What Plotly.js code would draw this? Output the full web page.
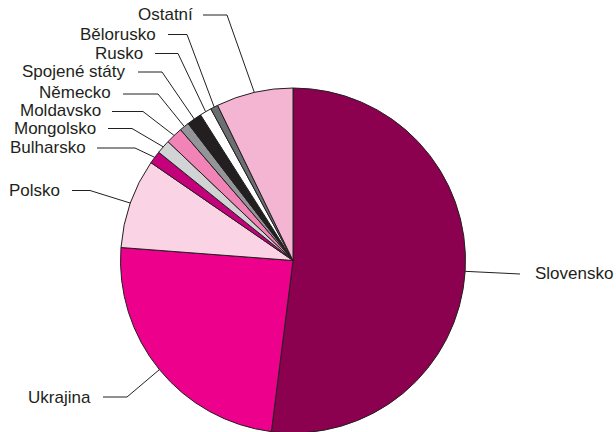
<!DOCTYPE html>
<html>
<head>
<meta charset="utf-8">
<script src="https://cdn.plot.ly/plotly-3.0.1.min.js"></script>
<style>
html,body{margin:0;padding:0;overflow:hidden;background:#fff;}
#chart{width:616px;height:440px;}
</style>
</head>
<body>
<div id="chart"></div>
<script>
// ---- data ----
var categories = ["Slovensko","Ukrajina","Polsko","Bulharsko","Mongolsko","Moldavsko","Německo","Spojené státy","Rusko","Bělorusko","Ostatní"];
var shares = [52.0, 24.2, 8.4, 1.2, 1.3, 1.6, 0.9, 1.4, 1.1, 0.7, 7.2];
var sliceColors = ["#8C0050","#EC008C","#FAD3E5","#C4007A","#D1D3D4","#F283B6","#939598","#231F20","#FFFFFF","#6D6E71","#F4B5D2"];

// ---- layout constants (pixels) ----
var W = 616, H = 440;
var cx = 293, cy = 260.5, R = 172.5;
// label text position, anchor, line start x, elbow x, line y
var labelPos = [
  {tx:533, ty:273, anchor:"left",  sx:520, ex:520, ly:274},
  {tx:93,  ty:397, anchor:"right", sx:103, ex:127, ly:397},
  {tx:62,  ty:190, anchor:"right", sx:72,  ex:90,  ly:190.5},
  {tx:88,  ty:147, anchor:"right", sx:97,  ex:135, ly:148},
  {tx:98,  ty:128, anchor:"right", sx:108, ex:132, ly:128.5},
  {tx:103, ty:110, anchor:"right", sx:112, ex:143, ly:111.5},
  {tx:113, ty:92,  anchor:"right", sx:123, ex:158, ly:94},
  {tx:128, ty:72,  anchor:"right", sx:138, ex:162, ly:72},
  {tx:145, ty:53,  anchor:"right", sx:155, ex:178, ly:53.5},
  {tx:158, ty:34,  anchor:"right", sx:168, ex:187, ly:34.5},
  {tx:195, ty:15,  anchor:"right", sx:203, ex:227, ly:15}
];

function px2x(p){ return p / W; }
function px2y(p){ return 1 - p / H; }

var total = shares.reduce(function(a,b){return a+b;},0);
var shapes = [], annotations = [];
var cum = 0;
for (var i = 0; i < categories.length; i++) {
  var mid = (cum + shares[i] / 2) / total * 2 * Math.PI; // clockwise from 12 o'clock
  cum += shares[i];
  var ax = cx + R * Math.sin(mid);
  var ay = cy - R * Math.cos(mid);
  var lp = labelPos[i];
  var path = "M " + px2x(lp.sx) + "," + px2y(lp.ly) +
             " L " + px2x(lp.ex) + "," + px2y(lp.ly) +
             " L " + px2x(ax) + "," + px2y(ay);
  shapes.push({type:"path", xref:"paper", yref:"paper", path:path,
               line:{color:"#231F20", width:1}});
  annotations.push({xref:"paper", yref:"paper", x:px2x(lp.tx), y:px2y(lp.ty),
                    xanchor:lp.anchor, yanchor:"middle", showarrow:false,
                    text:categories[i],
                    font:{family:"Liberation Sans, Arial, sans-serif", size:17, color:"#231F20"}});
}

var trace = {
  type:"pie",
  labels:categories,
  values:shares,
  sort:false,
  direction:"clockwise",
  rotation:0,
  textinfo:"none",
  hoverinfo:"label+percent",
  marker:{colors:sliceColors, line:{color:"#231F20", width:1}},
  domain:{x:[(cx-R)/W,(cx+R)/W], y:[1-(cy+R)/H, 1-(cy-R)/H]},
  showlegend:false
};

var layout = {
  width:W, height:H,
  margin:{l:0,r:0,t:0,b:0,pad:0},
  paper_bgcolor:"#ffffff",
  showlegend:false,
  shapes:shapes,
  annotations:annotations
};

Plotly.newPlot("chart", [trace], layout, {staticPlot:true, displayModeBar:false});
</script>
</body>
</html>
